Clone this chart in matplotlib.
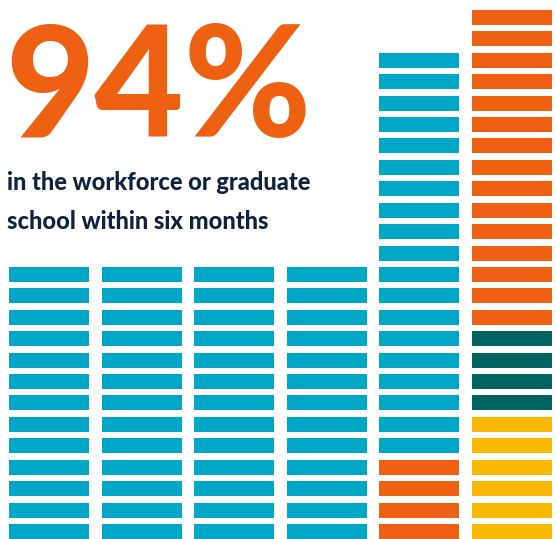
import matplotlib
matplotlib.use("Agg")
import matplotlib.pyplot as plt
import numpy as np

plt.rcParams['font.family'] = ['Lato', 'DejaVu Sans']

# stacked unit counts per column, from the bottom up
columns = np.arange(6)
yellow = [0, 0, 0, 0, 0, 6]
teal = [0, 0, 0, 0, 0, 4]
orange = [0, 0, 0, 0, 4, 15]
blue = [13, 13, 13, 13, 19, 0]

big_number = "94%"
caption = ["in the workforce or graduate", "school within six months"]

series = [(yellow, '#FBB800'), (teal, '#00635F'), (orange, '#EE6112'), (blue, '#00A7C7')]

fig = plt.figure(figsize=(5.56, 5.39), dpi=100)
ax = fig.add_axes([0, 0, 1, 1])

pitch_y = 21.42   # px per unit row
pitch_x = 92.6    # px per column
for c in columns:
    level = 0
    for counts, color in series:
        n = counts[c]
        if n == 0:
            continue
        rows = np.arange(level, level + n)
        ax.bar(np.full(n, c), 15 / pitch_y, bottom=rows, width=80 / pitch_x,
               align='edge', color=color, linewidth=0)
        level += n

ax.set_xlim(-9 / pitch_x, 556 / pitch_x - 9 / pitch_x)
ax.set_ylim(0, 539 / pitch_y)
ax.axis('off')

fig.text(5 / 556, 1 - 137 / 539, big_number, color='#EE6112', fontsize=111,
         fontweight='black', va='baseline', ha='left')
fig.text(7 / 556, 1 - 190 / 539, caption[0], color='#10223F', fontsize=17,
         fontweight='black', va='baseline', ha='left')
fig.text(7 / 556, 1 - 229 / 539, caption[1], color='#10223F', fontsize=17,
         fontweight='black', va='baseline', ha='left')

fig.savefig('out.png', dpi=100)
